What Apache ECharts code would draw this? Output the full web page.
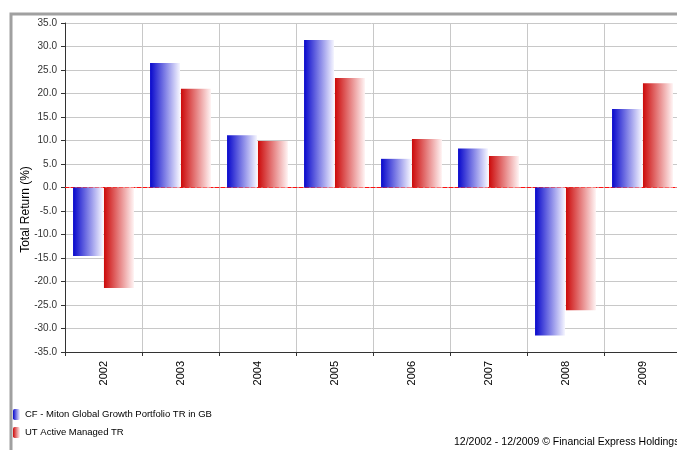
<!DOCTYPE html>
<html>
<head>
<meta charset="utf-8">
<script src="https://cdn.jsdelivr.net/npm/echarts@6/dist/echarts.min.js"></script>
<style>
  html, body { margin: 0; padding: 0; background: #fff; overflow: hidden; }
  #chart { width: 677px; height: 450px; }
</style>
</head>
<body>
<div id="chart"></div>
<script>
const years = ['2002', '2003', '2004', '2005', '2006', '2007', '2008', '2009'];
const mitonValues = [-14.6, 26.5, 11.1, 31.4, 6.1, 8.3, -31.5, 16.7];
const activeValues = [-21.4, 21.0, 9.9, 23.3, 10.3, 6.7, -26.1, 22.2];
const seriesNames = ['CF - Miton Global Growth Portfolio TR in GB', 'UT Active Managed TR'];
const yTicks = { min: -35, max: 35, step: 5 };

const fontFamily = '"Liberation Sans", Arial, sans-serif';

// horizontal fade from strong colour to near white, like the original
const fade = (from, to) => new echarts.graphic.LinearGradient(0, 0, 1, 0, [
    { offset: 0, color: from },
    { offset: 1, color: to }
]);

const chart = echarts.init(document.getElementById('chart'));

const option = {
    animation: false,
    textStyle: { fontFamily: fontFamily },
    // plot runs a little past the right edge of the picture
    grid: { left: 65, top: 23, width: 616, bottom: 98, outerBoundsMode: 'none' },
    graphic: [
        {
            type: 'polyline',
            shape: { points: [[11, 450], [11, 14], [677, 14]] },
            style: { stroke: '#a0a0a0', lineWidth: 3, fill: null },
            silent: true
        },
        {
            type: 'text',
            left: 454,
            top: 437,
            style: {
                text: '12/2002 - 12/2009 \u00a9 Financial Express Holdings 2010',
                fontSize: 10.5,
                fontFamily: fontFamily,
                fill: '#000'
            }
        }
    ],
    legend: {
        orient: 'vertical',
        left: 8,
        top: 404,
        itemWidth: 7,
        itemHeight: 11,
        itemGap: 7,
        textStyle: { fontSize: 9.5, color: '#000', fontFamily: fontFamily },
        data: seriesNames
    },
    xAxis: [
        {
            type: 'category',
            data: years,
            position: 'bottom',
            axisLine: { onZero: false, lineStyle: { color: '#333', width: 1 } },
            axisTick: { show: true, length: 4, lineStyle: { color: '#333' } },
            axisLabel: { rotate: 90, margin: 9, fontSize: 11, color: '#000' },
            splitLine: { show: true, lineStyle: { color: '#c8c8c8', width: 1 } }
        },
        {
            // red dashed zero line
            type: 'category',
            data: years,
            position: 'top',
            axisLine: { onZero: true, lineStyle: { color: '#ff1010', type: [4, 2], width: 1 } },
            axisTick: { show: false },
            axisLabel: { show: false },
            splitLine: { show: false }
        }
    ],
    yAxis: {
        type: 'value',
        min: yTicks.min,
        max: yTicks.max,
        interval: yTicks.step,
        name: 'Total Return (%)',
        nameLocation: 'middle',
        nameGap: 33,
        nameMoveOverlap: false,
        // the title sits a bit below the middle of the axis
        nameTextStyle: { fontSize: 12, color: '#000', padding: [0, 44, 0, 0] },
        axisLine: { show: true, lineStyle: { color: '#333', width: 1 } },
        axisTick: { show: true, length: 4, lineStyle: { color: '#333' } },
        axisLabel: {
            fontSize: 10,
            color: '#333',
            margin: 8,
            formatter: v => v.toFixed(1)
        },
        splitLine: { show: true, lineStyle: { color: '#c8c8c8', width: 1 } }
    },
    series: [
        {
            name: seriesNames[0],
            type: 'bar',
            xAxisIndex: 0,
            data: mitonValues,
            barWidth: 30,
            barGap: '3%',
            itemStyle: { color: fade('#0808cc', '#f6f6ff') }
        },
        {
            name: seriesNames[1],
            type: 'bar',
            xAxisIndex: 0,
            data: activeValues,
            barWidth: 30,
            itemStyle: { color: fade('#cc0a0a', '#fff4f4') }
        }
    ]
};

chart.setOption(option);
</script>
</body>
</html>
